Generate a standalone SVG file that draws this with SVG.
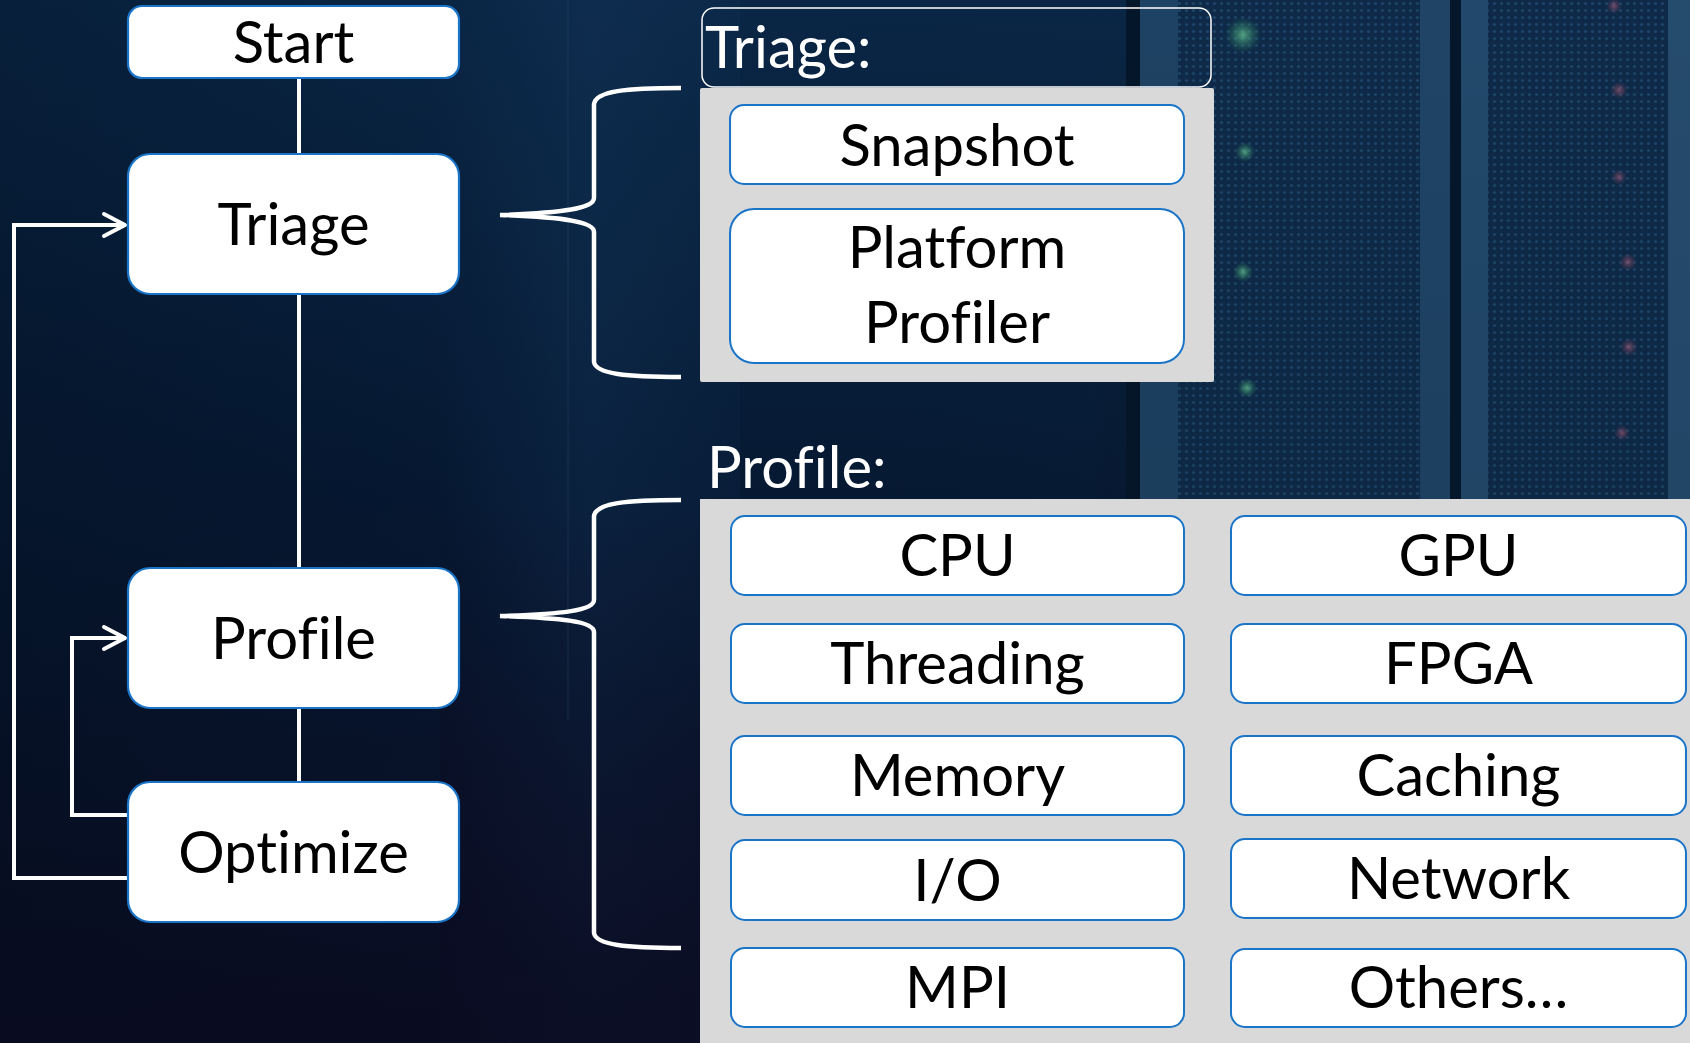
<svg xmlns="http://www.w3.org/2000/svg" width="1690" height="1043" viewBox="0 0 1690 1043">
  <defs>
    <style>
      .node rect { fill: #ffffff; stroke: #1a74c8; stroke-width: 2.2; }
      .node text, .item text { font-family: Lato, "Liberation Sans", sans-serif; font-size: 58px; fill: #000000; text-anchor: middle; font-variant-ligatures: none; }
      .item rect { fill: #ffffff; stroke: #1a74c8; stroke-width: 2; }
      .panel { fill: #d9d9d9; }
      .label { font-family: Lato, "Liberation Sans", sans-serif; font-size: 58px; fill: #ffffff; font-variant-ligatures: none; }
      .conn { fill: none; stroke: #ffffff; stroke-width: 4; }
      .brace { fill: none; stroke: #ffffff; stroke-width: 4.5; stroke-linecap: butt; }
    </style>
    <marker id="chevron" viewBox="-26 -14 28 28" refX="0" refY="0" markerWidth="28" markerHeight="28" markerUnits="userSpaceOnUse" orient="auto">
      <path d="M-22,-11 L-1,0 L-22,11" fill="none" stroke="#ffffff" stroke-width="4" stroke-linecap="round" stroke-linejoin="round"/>
    </marker>
    <linearGradient id="bgBase" x1="0" y1="0" x2="0" y2="1">
      <stop offset="0" stop-color="#0a2747"/>
      <stop offset="0.45" stop-color="#061a34"/>
      <stop offset="1" stop-color="#0a0c22"/>
    </linearGradient>
    <linearGradient id="bgSide" x1="0" y1="0" x2="1" y2="0">
      <stop offset="0" stop-color="#000814" stop-opacity="0.25"/>
      <stop offset="0.35" stop-color="#000814" stop-opacity="0"/>
      <stop offset="1" stop-color="#1a3c5e" stop-opacity="0.25"/>
    </linearGradient>
    <linearGradient id="midGlow" x1="0" y1="0" x2="1" y2="0">
      <stop offset="0" stop-color="#1b4068" stop-opacity="0"/>
      <stop offset="0.5" stop-color="#1b4068" stop-opacity="0.22"/>
      <stop offset="1" stop-color="#1b4068" stop-opacity="0.1"/>
    </linearGradient>
    <linearGradient id="rackFade" x1="0" y1="0" x2="0" y2="1">
      <stop offset="0" stop-color="#08121f" stop-opacity="0"/>
      <stop offset="0.55" stop-color="#08121f" stop-opacity="0.1"/>
      <stop offset="1" stop-color="#080c1e" stop-opacity="0.85"/>
    </linearGradient>
    <linearGradient id="lowFade" x1="0" y1="0" x2="0" y2="1">
      <stop offset="0" stop-color="#0a0c22" stop-opacity="0"/>
      <stop offset="1" stop-color="#0a0c22" stop-opacity="0.8"/>
    </linearGradient>
    <pattern id="mesh" width="7" height="7" patternUnits="userSpaceOnUse">
      <rect width="7" height="7" fill="#0e2a48"/>
      <circle cx="3.5" cy="3.5" r="1.6" fill="#1d4468"/>
    </pattern>
    <radialGradient id="ledGreen">
      <stop offset="0" stop-color="#6fd29a" stop-opacity="0.7"/>
      <stop offset="1" stop-color="#2b8a5a" stop-opacity="0"/>
    </radialGradient>
    <radialGradient id="ledRed">
      <stop offset="0" stop-color="#c46a86" stop-opacity="0.55"/>
      <stop offset="1" stop-color="#7a3550" stop-opacity="0"/>
    </radialGradient>
  </defs>

  <!-- backdrop: dark server room -->
  <rect width="1690" height="1043" fill="url(#bgBase)"/>
  <rect width="1690" height="1043" fill="url(#bgSide)"/>
  <rect x="440" y="0" width="300" height="1043" fill="url(#midGlow)"/>
  <rect x="440" y="500" width="300" height="543" fill="url(#lowFade)"/>
  <rect x="567" y="0" width="2" height="720" fill="#2a4a6a" opacity="0.2"/>

  <!-- rack panels on the right -->
  <rect x="1126" y="0" width="14" height="1043" fill="#041629"/>
  <rect x="1140" y="0" width="38" height="1043" fill="#1e4263"/>
  <rect x="1178" y="0" width="242" height="1043" fill="url(#mesh)"/>
  <rect x="1420" y="0" width="30" height="1043" fill="#1f4466"/>
  <rect x="1450" y="0" width="11" height="1043" fill="#04172b"/>
  <rect x="1461" y="0" width="27" height="1043" fill="#22496b"/>
  <rect x="1488" y="0" width="180" height="1043" fill="url(#mesh)"/>
  <rect x="1668" y="0" width="22" height="1043" fill="#254b6d"/>
  <rect x="1100" y="0" width="590" height="1043" fill="url(#rackFade)"/>
  <circle cx="1243" cy="35" r="18" fill="url(#ledGreen)"/>
  <circle cx="1245" cy="152" r="10" fill="url(#ledGreen)"/>
  <circle cx="1243" cy="272" r="10" fill="url(#ledGreen)"/>
  <circle cx="1247" cy="388" r="10" fill="url(#ledGreen)"/>
  <circle cx="1614" cy="6" r="8" fill="url(#ledRed)"/>
  <circle cx="1619" cy="90" r="9" fill="url(#ledRed)"/>
  <circle cx="1619" cy="177" r="8" fill="url(#ledRed)"/>
  <circle cx="1628" cy="262" r="9" fill="url(#ledRed)"/>
  <circle cx="1629" cy="347" r="9" fill="url(#ledRed)"/>
  <circle cx="1622" cy="433" r="8" fill="url(#ledRed)"/>

  <!-- connectors -->
  <g id="connectors">
    <line class="conn" x1="299" y1="78" x2="299" y2="154"/>
    <line class="conn" x1="299" y1="294" x2="299" y2="568"/>
    <line class="conn" x1="299" y1="708" x2="299" y2="782"/>
    <path class="conn" d="M128,878 H14 V225 H126" marker-end="url(#chevron)"/>
    <path class="conn" d="M128,815 H72 V638 H126" marker-end="url(#chevron)"/>
    <path class="brace" d="M681,88 C626,88 596,91 594,104 V198 C594,209 560,213 500,215 C560,217 594,221 594,232 V362 C596,374 626,377 681,377"/>
    <path class="brace" d="M681,500 C626,500 596,503 594,516 V600 C594,611 560,614 500,616 C560,618 594,621 594,632 V933 C596,945 626,948 681,948"/>
  </g>

  <!-- flow nodes -->
  <g id="node-start" class="node">
    <rect x="128" y="6" width="331" height="72" rx="14"/>
    <text x="293.5" y="63">Start</text>
  </g>
  <g id="node-triage" class="node">
    <rect x="128" y="154" width="331" height="140" rx="22"/>
    <text x="293.5" y="245">Triage</text>
  </g>
  <g id="node-profile" class="node">
    <rect x="128" y="568" width="331" height="140" rx="22"/>
    <text x="293.5" y="659">Profile</text>
  </g>
  <g id="node-optimize" class="node">
    <rect x="128" y="782" width="331" height="140" rx="22"/>
    <text x="293.5" y="873">Optimize</text>
  </g>

  <!-- triage tools -->
  <g id="triage-group">
    <rect x="702" y="8" width="509" height="79" rx="12" fill="none" stroke="#ffffff" stroke-width="1.5"/>
    <text class="label" x="705" y="68">Triage:</text>
    <rect class="panel" x="700" y="88" width="514" height="294" rx="2"/>
  </g>
  <g id="item-snapshot" class="item">
    <rect x="730" y="105" width="454" height="79" rx="14"/>
    <text x="957" y="166">Snapshot</text>
  </g>
  <g id="item-platform-profiler" class="item">
    <rect x="730" y="209" width="454" height="154" rx="24"/>
    <text x="957" y="268">Platform</text>
    <text x="957" y="343">Profiler</text>
  </g>

  <!-- profile tools -->
  <g id="profile-group">
    <text class="label" x="707" y="488">Profile:</text>
    <rect class="panel" x="700" y="499" width="990" height="544"/>
  </g>
  <g id="item-cpu" class="item">
    <rect x="731" y="516" width="453" height="79" rx="14"/>
    <text x="957.5" y="576">CPU</text>
  </g>
  <g id="item-gpu" class="item">
    <rect x="1231" y="516" width="455" height="79" rx="14"/>
    <text x="1458.5" y="576">GPU</text>
  </g>
  <g id="item-threading" class="item">
    <rect x="731" y="624" width="453" height="79" rx="14"/>
    <text x="957.5" y="684">Threading</text>
  </g>
  <g id="item-fpga" class="item">
    <rect x="1231" y="624" width="455" height="79" rx="14"/>
    <text x="1458.5" y="684">FPGA</text>
  </g>
  <g id="item-memory" class="item">
    <rect x="731" y="736" width="453" height="79" rx="14"/>
    <text x="957.5" y="796">Memory</text>
  </g>
  <g id="item-caching" class="item">
    <rect x="1231" y="736" width="455" height="79" rx="14"/>
    <text x="1458.5" y="796">Caching</text>
  </g>
  <g id="item-io" class="item">
    <rect x="731" y="840" width="453" height="80" rx="14"/>
    <text x="957.5" y="901">I/O</text>
  </g>
  <g id="item-network" class="item">
    <rect x="1231" y="839" width="455" height="79" rx="14"/>
    <text x="1458.5" y="899">Network</text>
  </g>
  <g id="item-mpi" class="item">
    <rect x="731" y="948" width="453" height="79" rx="14"/>
    <text x="957.5" y="1008">MPI</text>
  </g>
  <g id="item-others" class="item">
    <rect x="1231" y="949" width="455" height="78" rx="14"/>
    <text x="1458.5" y="1008">Others…</text>
  </g>
</svg>
